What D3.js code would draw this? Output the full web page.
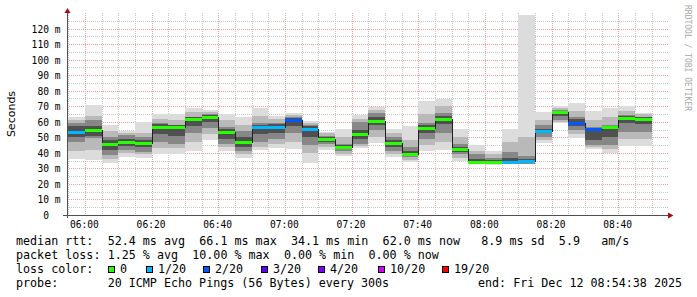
<!DOCTYPE html>
<html><head><meta charset="utf-8">
<script src="https://cdn.jsdelivr.net/npm/d3@7"></script>
<style>
body{margin:0;background:#fff}
svg{display:block}
text{font-family:"DejaVu Sans Mono",monospace;fill:#000}
</style>
</head><body>
<svg id="chart" width="697" height="297"></svg>
<script>
// ---------- data ----------
const rangeStart = "2025-12-12 05:54:38";
const rangeEnd   = "2025-12-12 08:54:38";
const slotStarts = ["05:55","06:00","06:05","06:10","06:15","06:20","06:25","06:30","06:35","06:40",
  "06:45","06:50","06:55","07:00","07:05","07:10","07:15","07:20","07:25","07:30",
  "07:35","07:40","07:45","07:50","07:55","08:00","08:05","08:10","08:15","08:20",
  "08:25","08:30","08:35","08:40","08:45"];
const medians = [53.6,54.5,46.0,47.0,46.3,56.8,56.4,61.6,63.3,53.2,
  47.2,56.4,56.8,61.1,55.1,48.7,43.6,51.9,60.7,46.5,
  39.5,56.2,61.8,42.3,34.1,34.3,34.3,34.7,54.0,66.1,
  59.4,55.1,56.4,62.6,62.0];
const lossCount = [1,0,0,0,0,0,0,0,0,0,
  0,1,1,2,1,0,0,0,0,0,
  0,0,0,0,0,0,1,1,1,0,
  2,2,0,0,0];
// smoke: outermost pings (min / max)
const smokeMin = [36.0,35.2,33.7,37.5,36.5,39.0,39.0,41.2,48.3,41.2,
  36.9,41.8,43.3,42.5,33.7,41.8,38.0,42.9,46.1,37.5,
  33.9,41.2,41.8,34.8,32.6,32.2,32.6,32.6,46.1,59.0,
  49.3,42.5,40.1,44.6,44.6];
const smokeMax = [63.3,70.8,58.0,54.3,60.0,64.8,64.8,69.0,67.6,64.8,
  62.9,69.0,63.7,65.4,60.5,53.2,55.3,64.3,69.7,55.3,
  57.5,73.4,74.6,55.3,45.0,41.4,55.3,129.0,66.0,70.1,
  71.9,66.9,69.0,70.1,65.8];
// second band
const band2Lo = [41,42,36,40,39,43,43,47,52,43.5,
  39,44,46,47,40,44,39.5,44.5,50,39.5,
  35.5,45,47,37,32.8,32.6,33,32.8,48,60,
  52,43.5,42.5,49,49];
const band2Hi = [61,64,54,53,53,62,61,66,66.5,61,
  58,64,61.5,64.5,59.5,52.5,50,62,67.5,53,
  48,65,70,50,41.5,39.5,47,50.4,61,68.8,
  67,61,63,67,64.8];
// third (dark) band
const band3Lo = [47,49.5,38.6,42,40.7,47,46,52.6,56,46,
  41,47,49,52.6,45,46,41,46,54.7,41,
  37.6,48.7,52.6,39.5,33,33,33.3,33,50.4,61,
  54.7,45,45,53.6,53.6];
const band3Hi = [59,61,50,51.5,50.4,59,57.7,63.3,65,56.8,
  54,59,59,63,57.7,51,45.6,60,65.4,50.5,
  43.6,59,65.4,45.6,39,37,40.7,38,58,67.6,
  63.3,56.8,57.7,64.3,63.3];
// core band around the median
const band4Lo = [50,51,42,44.5,43.5,52,51,57,60,49,
  44,52,53,57,50,47.3,42.3,49,58,44,
  38.3,53,58.5,40.8,33.5,33.6,33.8,34,52.5,64,
  57.5,48,50,59,58.5];
const band4Hi = [57,57.5,48,49,48.5,58.5,58,63,64.5,55.5,
  50,58,58.5,62.5,57,50,44.8,55,63,48.5,
  41.3,58,63.5,43.8,36,35.5,36.5,36,55.5,67,
  61.5,56,57.5,63.8,63];

const yTicks = [0,10,20,30,40,50,60,70,80,90,100,110,120];
const yTickLabels = ["0","10 m","20 m","30 m","40 m","50 m","60 m","70 m","80 m","90 m","100 m","110 m","120 m"];
const xTickLabels = ["06:00","06:20","06:40","07:00","07:20","07:40","08:00","08:20","08:40"];

const lossLevels = [0,1,2,3,4,10,19];
const lossLabels = ["0","1/20","2/20","3/20","4/20","10/20","19/20"];
const lossColors = ["#26ff00","#00b8ff","#0059ff","#5e00ff","#7e00ff","#dd00ff","#ff0000"];

const statLines = [
  ["median rtt:", "52.4 ms avg", "66.1 ms max", "34.1 ms min", "62.0 ms now", "8.9 ms sd", "5.9", "am/s"],
  ["packet loss:", "1.25 % avg", "10.00 % max", "0.00 % min", "0.00 % now"]
];
const probeText = "20 ICMP Echo Pings (56 Bytes) every 300s";
const endText = "end: Fri Dec 12 08:54:38 2025";

// ---------- drawing ----------
const svg = d3.select("#chart");
const parseFull = d3.timeParse("%Y-%m-%d %H:%M:%S");
const parseSlot = s => parseFull("2025-12-12 " + s + ":00");
const t0 = parseFull(rangeStart), t1 = parseFull(rangeEnd);
const x = d3.scaleTime().domain([t0, t1]).range([67, 667]);
const y = d3.scaleLinear().domain([0, 130]).range([215, 13]);
const plotL = 67, plotR = 668, plotT = 13, plotB = 215;
const step = 5 * 60 * 1000;

svg.append("rect").attr("width",697).attr("height",297).attr("fill","#fff");

// grid
const grid = svg.append("g").attr("shape-rendering","crispEdges");
const minorY = d3.range(5, 130, 5).filter(v => v % 10 !== 0);
grid.selectAll(".hmin").data(minorY).join("line")
  .attr("x1",plotL).attr("x2",plotR)
  .attr("y1",d=>Math.round(y(d))+0.5).attr("y2",d=>Math.round(y(d))+0.5)
  .attr("stroke","#c8c8c8").attr("stroke-dasharray","1,1");
const minorTimes = d3.timeMinute.every(5).range(t0, t1).filter(t => t.getMinutes() % 20 !== 0);
grid.selectAll(".vmin").data(minorTimes).join("line")
  .attr("x1",d=>Math.round(x(d))+0.5).attr("x2",d=>Math.round(x(d))+0.5)
  .attr("y1",plotT).attr("y2",plotB)
  .attr("stroke","#c8c8c8").attr("stroke-dasharray","1,1");
const majorY = yTicks.filter(v => v > 0);
grid.selectAll(".hmaj").data(majorY).join("line")
  .attr("x1",plotL).attr("x2",plotR)
  .attr("y1",d=>Math.round(y(d))+0.5).attr("y2",d=>Math.round(y(d))+0.5)
  .attr("stroke","#e8a0a0").attr("stroke-dasharray","1,1");
const majorTimes = xTickLabels.map(parseSlot);
grid.selectAll(".vmaj").data(majorTimes).join("line")
  .attr("x1",d=>Math.round(x(d))+0.5).attr("x2",d=>Math.round(x(d))+0.5)
  .attr("y1",plotT).attr("y2",plotB)
  .attr("stroke","#e8a0a0").attr("stroke-dasharray","1,1");

// bars
const bars = slotStarts.map((s,i) => {
  const ts = parseSlot(s);
  return {
    x0: Math.max(Math.round(x(ts)), plotL+1),
    x1: Math.round(x(new Date(+ts + step))),
    m: medians[i], loss: lossCount[i],
    bands: [[smokeMin[i], smokeMax[i]], [band2Lo[i], band2Hi[i]], [band3Lo[i], band3Hi[i]], [band4Lo[i], band4Hi[i]]]
  };
});
const bandColors = ["#dcdcdc","#b9b9b9","#878787","#505050"];
const smoke = svg.append("g").attr("shape-rendering","crispEdges");
bandColors.forEach((c, level) => {
  smoke.selectAll(".b"+level).data(bars).join("rect")
    .attr("x", d => d.x0).attr("width", d => d.x1 - d.x0)
    .attr("y", d => Math.max(Math.round(y(d.bands[level][1])), plotT))
    .attr("height", d => Math.round(y(d.bands[level][0])) - Math.max(Math.round(y(d.bands[level][1])), plotT))
    .attr("fill", c);
});

// median step line
const pts = bars.map(d => [d.x0, Math.round(y(d.m)) + 0.5]);
pts.push([bars[bars.length-1].x1, Math.round(y(bars[bars.length-1].m)) + 0.5]);
svg.append("path").attr("d", d3.line().curve(d3.curveStepAfter)(pts))
  .attr("fill","none").attr("stroke","#202020").attr("stroke-width",1)
  .attr("shape-rendering","crispEdges");
// loss-coloured median bands
const colorOf = n => { let c = lossColors[0]; lossLevels.forEach((l,i)=>{ if (n >= l) c = lossColors[i]; }); return c; };
svg.append("g").attr("shape-rendering","crispEdges").selectAll("rect").data(bars).join("rect")
  .attr("x", d => d.x0).attr("width", d => d.x1 - d.x0)
  .attr("y", d => Math.round(y(d.m)) - 1).attr("height", 3)
  .attr("fill", d => colorOf(d.loss));

// axes
const ax = svg.append("g").attr("shape-rendering","crispEdges");
ax.append("line").attr("x1",63).attr("x2",669).attr("y1",215.5).attr("y2",215.5).attr("stroke","#505050");
ax.append("line").attr("x1",67.5).attr("x2",67.5).attr("y1",218).attr("y2",12).attr("stroke","#505050");
svg.append("path").attr("d","M673.5,215.5L668,212.5L668,218.5Z").attr("fill","#a01010");
svg.append("path").attr("d","M67.5,8L64.5,13L70.5,13Z").attr("fill","#a01010");

// y tick labels
svg.append("g").selectAll("text").data(yTicks).join("text")
  .attr("x", (d,i) => yTickLabels[i].endsWith("m") ? 60.5 : 49)
  .attr("y", d => y(d) + 4)
  .attr("text-anchor","end").style("font-size","9.6px")
  .text((d,i) => yTickLabels[i]);
// x tick labels
svg.append("g").selectAll("text").data(majorTimes).join("text")
  .attr("x", d => x(d) - 0.5).attr("y", 227.5)
  .attr("text-anchor","middle").style("font-size","9.6px")
  .text((d,i) => xTickLabels[i]);

// axis title
svg.append("text").attr("transform","translate(15,114) rotate(-90)")
  .attr("text-anchor","middle").style("font-family","'DejaVu Sans',sans-serif").style("font-size","11px")
  .text("Seconds");
// watermark
svg.append("text").attr("transform","translate(685,5) rotate(90)")
  .style("font-size","8px").style("fill","#a8a8a8")
  .text("RRDTOOL / TOBI OETIKER");

// legend (monospace columns)
const cw = 7.05, lx = 16;
const col1 = [0,13,26,39,52,66,77,83];
const col2 = [0,13,25,38,50];
const leg = svg.append("g").style("font-size","11.7px");
statLines[0].forEach((t,i) => leg.append("text").attr("x",lx + col1[i]*cw).attr("y",245).text(t));
statLines[1].forEach((t,i) => leg.append("text").attr("x",lx + col2[i]*cw).attr("y",259).text(t));
leg.append("text").attr("x",lx).attr("y",273).text("loss color:");
const boxX = [108,146,203,261,318,378,442];
lossLevels.forEach((l,i) => {
  leg.append("rect").attr("x",boxX[i]+0.5).attr("y",266.5).attr("width",6).attr("height",6)
    .attr("fill",lossColors[i]).attr("stroke","#000").attr("shape-rendering","crispEdges");
  leg.append("text").attr("x",boxX[i]+12).attr("y",273).text(lossLabels[i]);
});
leg.append("text").attr("x",lx).attr("y",287).text("probe:");
leg.append("text").attr("x",lx + 13*cw).attr("y",287).text(probeText);
leg.append("text").attr("x",478).attr("y",287).text(endText);
</script>
</body></html>
